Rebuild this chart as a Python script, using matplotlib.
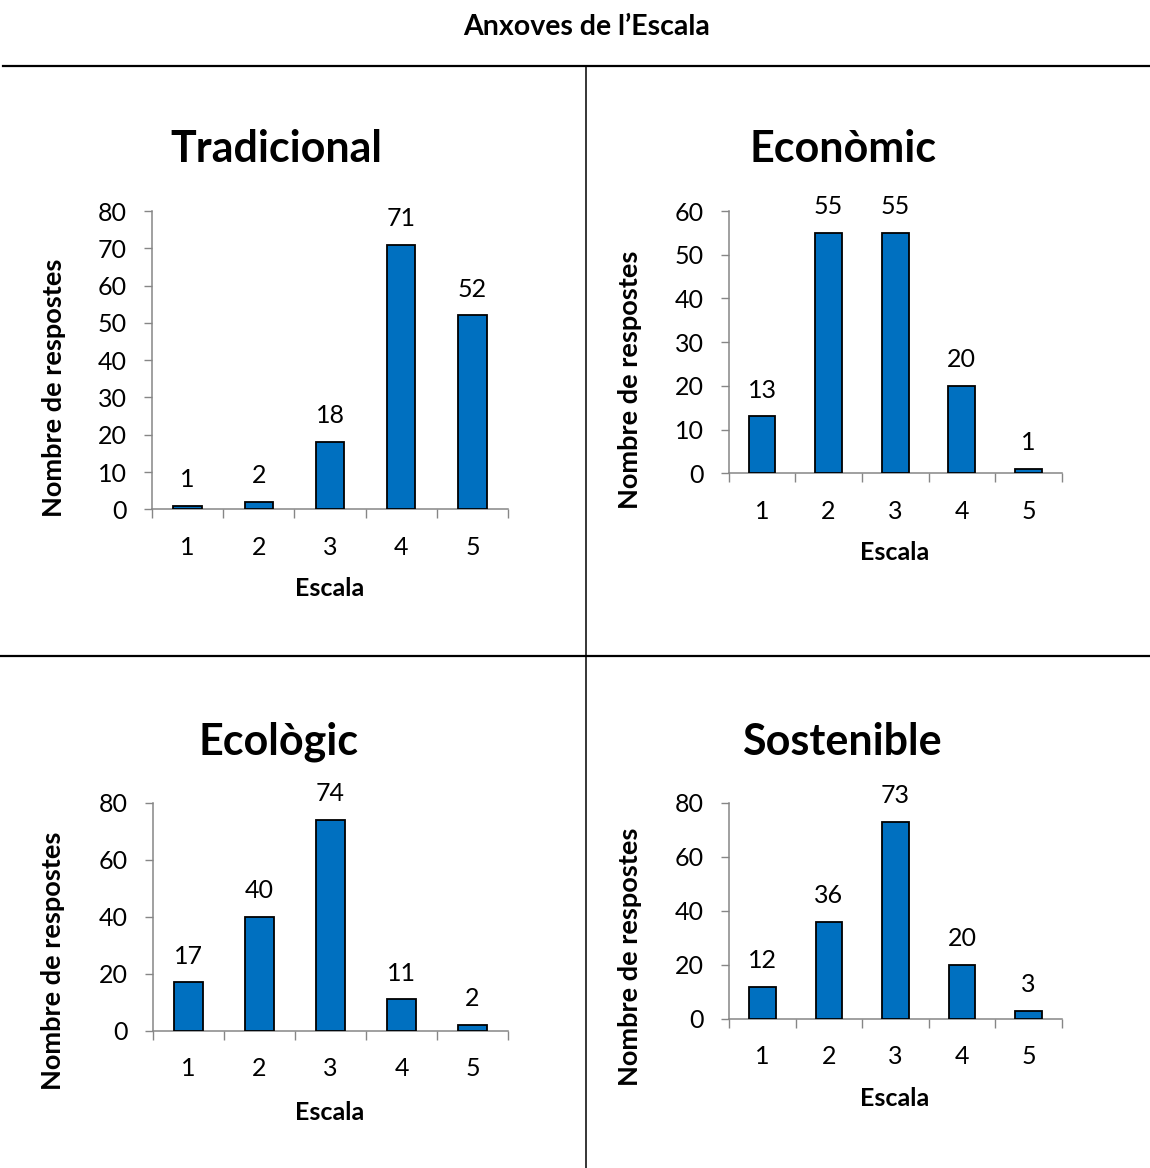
import matplotlib
matplotlib.use("Agg")
import matplotlib.pyplot as plt
from matplotlib.lines import Line2D

plt.rcParams['font.family'] = ['Lato', 'DejaVu Sans']

W, H = 1150, 1168

# survey answers per point of the scale
escala = [1, 2, 3, 4, 5]
tradicional = [1, 2, 18, 71, 52]
economic = [13, 55, 55, 20, 1]
ecologic = [17, 40, 74, 11, 2]
sostenible = [12, 36, 73, 20, 3]

titols = ['Tradicional', 'Econòmic', 'Ecològic', 'Sostenible']
series = [tradicional, economic, ecologic, sostenible]
y_max = [80, 60, 80, 80]
y_step = [10, 10, 20, 20]

# panel layout in pixels: (left, right, y of zero line, y of top tick)
panels = [
    (152, 508, 509.3, 211),
    (728.7, 1061.7, 473.3, 211),
    (153, 508, 1030.7, 802.7),
    (729, 1061.7, 1019, 802.7),
]
title_pos = [(276, 162), (843, 162), (278, 755), (842, 755)]
ylabel_pos = [(54, 388), (630, 380), (53, 961), (630, 957)]
xlabel_pos = [(330, 588), (895, 553), (330, 1112), (895, 1098)]

BLUE = '#0070C0'
GRAY = '#868686'


def fx(x):
    return x / W


def fy(y):
    return 1 - y / H


fig = plt.figure(figsize=(W / 100, H / 100), dpi=100)

fig.text(fx(587), fy(27), "Anxoves de l\u2019Escala", ha='center', va='center',
         fontsize=20.5, fontweight='bold')

# frame lines dividing the four panels
fig.add_artist(Line2D([fx(3), 1], [fy(66), fy(66)], color='black', lw=1.6))
fig.add_artist(Line2D([0, 1], [fy(656), fy(656)], color='black', lw=1.6))
fig.add_artist(Line2D([fx(586), fx(586)], [fy(66), 0], color='black', lw=1.1))

for i, vals in enumerate(series):
    left, right, y0, ytop = panels[i]
    ax = fig.add_axes([fx(left), fy(y0), (right - left) / W, (y0 - ytop) / H])

    ax.bar(escala, vals, width=0.4, color=BLUE, edgecolor='black', linewidth=1.3, zorder=3)
    for x, v in zip(escala, vals):
        ax.annotate(str(v), (x, v), xytext=(0, 13.5), textcoords='offset points',
                    ha='center', va='baseline', fontsize=18)

    ax.set_xlim(0.5, 5.5)
    ax.set_ylim(0, y_max[i])
    ax.set_yticks(range(0, y_max[i] + 1, y_step[i]))

    # category boundaries carry the ticks, centres carry the labels
    ax.set_xticks([0.5, 1.5, 2.5, 3.5, 4.5, 5.5])
    ax.set_xticklabels([])
    ax.set_xticks(escala, minor=True)
    ax.set_xticklabels([str(e) for e in escala], minor=True)
    ax.tick_params(axis='x', which='major', direction='out', length=6.5, width=1, color=GRAY)
    ax.tick_params(axis='x', which='minor', length=0, pad=19, labelsize=18)
    ax.tick_params(axis='y', direction='out', length=6, width=1, color=GRAY,
                   pad=12, labelsize=18)

    for side in ['top', 'right']:
        ax.spines[side].set_visible(False)
    for side in ['left', 'bottom']:
        ax.spines[side].set_color(GRAY)
        ax.spines[side].set_linewidth(1.1)

    tx, ty = title_pos[i]
    fig.text(fx(tx), fy(ty), titols[i], ha='center', va='baseline',
             fontsize=31, fontweight='bold')
    lx, ly = ylabel_pos[i]
    fig.text(fx(lx), fy(ly), 'Nombre de respostes', ha='center', va='center',
             rotation=90, fontsize=19.5, fontweight='bold')
    ex, ey = xlabel_pos[i]
    fig.text(fx(ex), fy(ey), 'Escala', ha='center', va='center',
             fontsize=18, fontweight='bold')

fig.savefig('out.png', dpi=100)
